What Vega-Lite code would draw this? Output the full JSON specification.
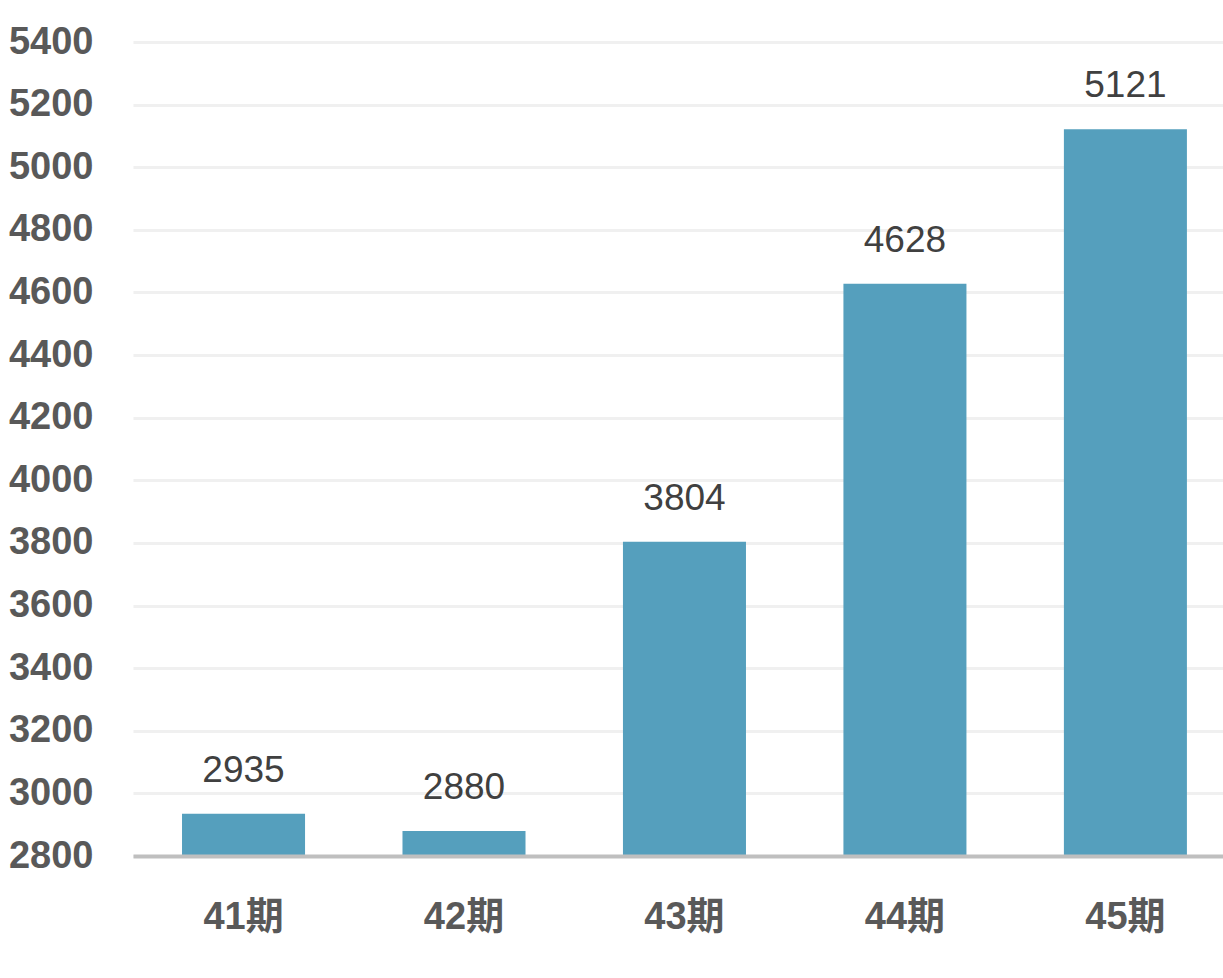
{
  "$schema": "https://vega.github.io/schema/vega-lite/v6.json",
  "width": 1090,
  "height": 814,
  "autosize": "none",
  "padding": {"left": 133, "top": 42, "right": 0, "bottom": 122},
  "background": "white",
  "config": {"view": {"stroke": null}, "font": "Liberation Sans, Noto Sans CJK SC"},
  "data": {"values": [
    {"period": "41期", "value": 2935},
    {"period": "42期", "value": 2880},
    {"period": "43期", "value": 3804},
    {"period": "44期", "value": 4628},
    {"period": "45期", "value": 5121}
  ]},
  "encoding": {
    "x": {"field": "period", "type": "nominal", "sort": null,
      "scale": {"paddingInner": 0.442, "paddingOuter": 0.193, "align": 0.576},
      "axis": {"title": null, "labelAngle": 0, "labelFontSize": 38, "labelFontWeight": "bold", "labelColor": "#595959",
        "labelPadding": 42, "ticks": false, "domainColor": "#bfbfbf", "domainWidth": 4, "zindex": 1,
        "labelFont": "Liberation Sans, Noto Sans CJK SC"}}
  },
  "layer": [
    {"mark": {"type": "bar", "color": "#559fbd"},
      "encoding": {
        "y": {"field": "value", "type": "quantitative",
          "scale": {"domain": [2800, 5400], "zero": false, "nice": false},
          "axis": {"title": null, "values": [2800,3000,3200,3400,3600,3800,4000,4200,4400,4600,4800,5000,5200,5400],
            "format": "d",
            "labelFontSize": 38, "labelFontWeight": "bold", "labelColor": "#595959", "labelPadding": 40,
            "ticks": false, "domain": false, "gridColor": "#f0f0f0", "gridWidth": 3,
            "labelFont": "Liberation Sans"}},
        "y2": {"datum": 2800}
      }},
    {"mark": {"type": "text", "fontSize": 37, "color": "#404040", "baseline": "alphabetic", "dy": -32, "font": "Liberation Sans"},
      "encoding": {
        "y": {"field": "value", "type": "quantitative"},
        "text": {"field": "value", "type": "quantitative", "format": "d"}
      }}
  ]
}
